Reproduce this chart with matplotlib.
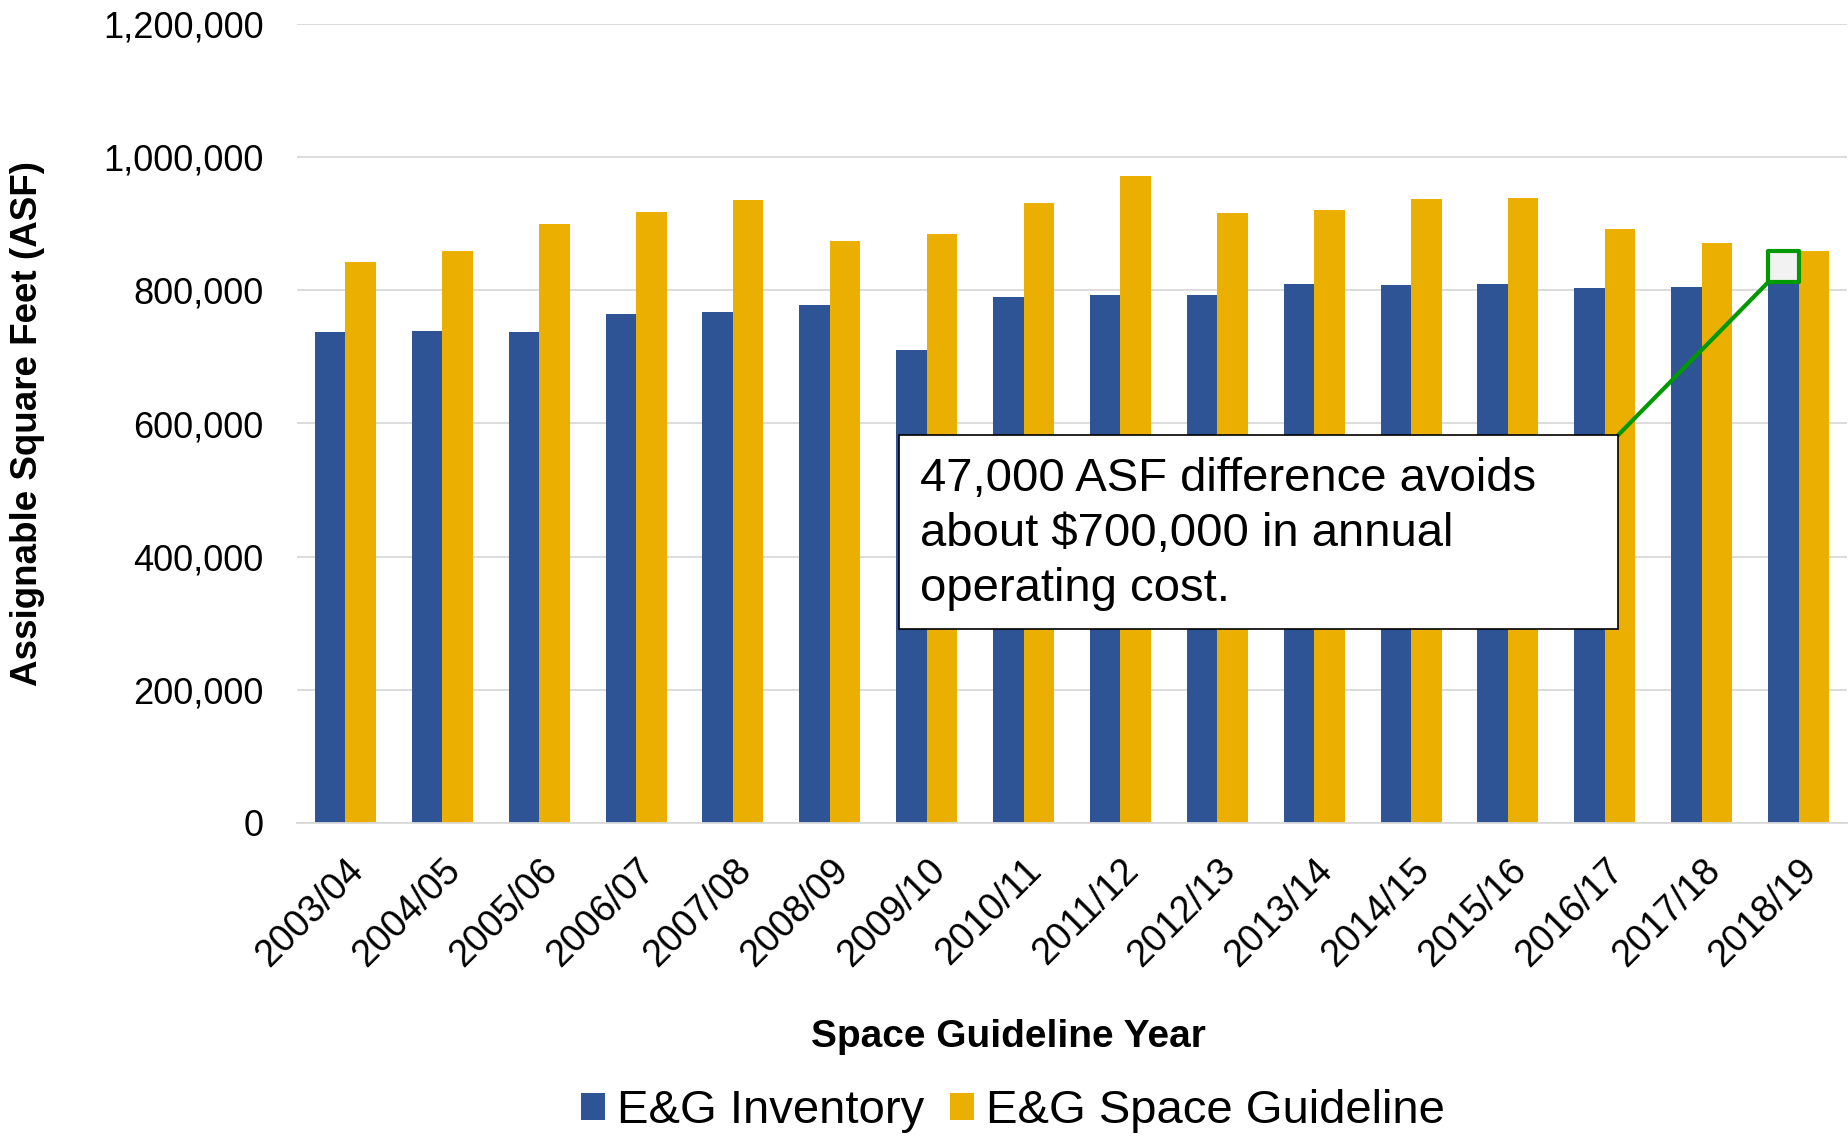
import matplotlib
matplotlib.use("Agg")
import matplotlib.pyplot as plt
import numpy as np
from matplotlib.patches import Rectangle, ConnectionPatch
from matplotlib.ticker import FuncFormatter

years = ["2003/04", "2004/05", "2005/06", "2006/07", "2007/08", "2008/09", "2009/10", "2010/11",
         "2011/12", "2012/13", "2013/14", "2014/15", "2015/16", "2016/17", "2017/18", "2018/19"]
inventory = [738000, 739500, 738000, 765000, 768000, 778000, 711000, 790500,
             793000, 793000, 809500, 808500, 810000, 803500, 805000, 812000]
guideline = [843000, 859000, 900000, 918000, 935500, 874500, 884500, 931000,
             971000, 916500, 920500, 937000, 938500, 892500, 871500, 859000]
series_names = ["E&G Inventory", "E&G Space Guideline"]
yticks = [0, 200000, 400000, 600000, 800000, 1000000, 1200000]
note = "47,000 ASF difference avoids\nabout $700,000 in annual\noperating cost."

BLUE = "#2F5496"
GOLD = "#EAAF00"
GREEN = "#009900"

plt.rcParams['font.family'] = ['Liberation Sans', 'DejaVu Sans']

W, H = 1849, 1136
fig = plt.figure(figsize=(W / 100, H / 100), dpi=100)
ax = fig.add_axes([297 / W, 1 - 823 / H, (1847 - 297) / W, (823 - 24) / H])

x = np.arange(len(years))
bw = 0.315
ax.bar(x - bw / 2, inventory, bw, color=BLUE, label=series_names[0], zorder=2)
ax.bar(x + bw / 2, guideline, bw, color=GOLD, label=series_names[1], zorder=2)

ax.set_xlim(-0.5, len(years) - 0.5)
ax.set_ylim(0, 1200000)
ax.set_yticks(yticks)
ax.yaxis.set_major_formatter(FuncFormatter(lambda v, p: f"{v:,.0f}"))
ax.yaxis.grid(True, color="#D9D9D9", linewidth=1.3)
ax.set_axisbelow(True)
for s in ["top", "right", "left"]:
    ax.spines[s].set_visible(False)
ax.spines["bottom"].set_color("#D9D9D9")
ax.spines["bottom"].set_linewidth(1.3)
ax.tick_params(axis="both", length=0)
ax.tick_params(axis="y", labelsize=26, pad=24)
ax.set_xticks(x)
ax.set_xticklabels(years, rotation=45, ha="right", va="top", rotation_mode="anchor", fontsize=27)
ax.tick_params(axis="x", pad=21)

ax.set_ylabel("Assignable Square Feet (ASF)", fontsize=26.5, fontweight="bold", va="center")
ax.yaxis.set_label_coords(-(297 - 27) / 1550, 0.5)

fig.text(1008 / W, 1 - 1047 / H, "Space Guideline Year", fontsize=28, fontweight="bold",
         ha="center", va="baseline")

# highlight of the 2018/19 difference
last = len(years) - 1
rect = Rectangle((last - bw, inventory[last]), bw, guideline[last] - inventory[last],
                 facecolor="#F2F2F2", edgecolor=GREEN, linewidth=3, joinstyle="round", zorder=4)
ax.add_patch(rect)

box_l, box_b, box_w, box_h = 0.3885, 0.2428, 0.4639, 0.2428
con = ConnectionPatch(xyA=(box_l + box_w, box_b + box_h), coordsA=ax.transAxes,
                      xyB=(last - bw, inventory[last]), coordsB=ax.transData,
                      color=GREEN, linewidth=3, zorder=4)
ax.add_artist(con)
ax.add_patch(Rectangle((box_l, box_b), box_w, box_h, transform=ax.transAxes,
                       facecolor="white", edgecolor="black", linewidth=1.2, zorder=5))
ax.text(0.402, 0.3617, note, transform=ax.transAxes, fontsize=34, ha="left", va="center",
        linespacing=1.33, zorder=6)

fig.legend(loc="center", bbox_to_anchor=(1013 / W, 25 / H), ncol=2, frameon=False,
           fontsize=34, handlelength=0.51, handleheight=0.51, handletextpad=0.25,
           columnspacing=0.55, borderpad=0)

fig.savefig("out.png", dpi=100)
